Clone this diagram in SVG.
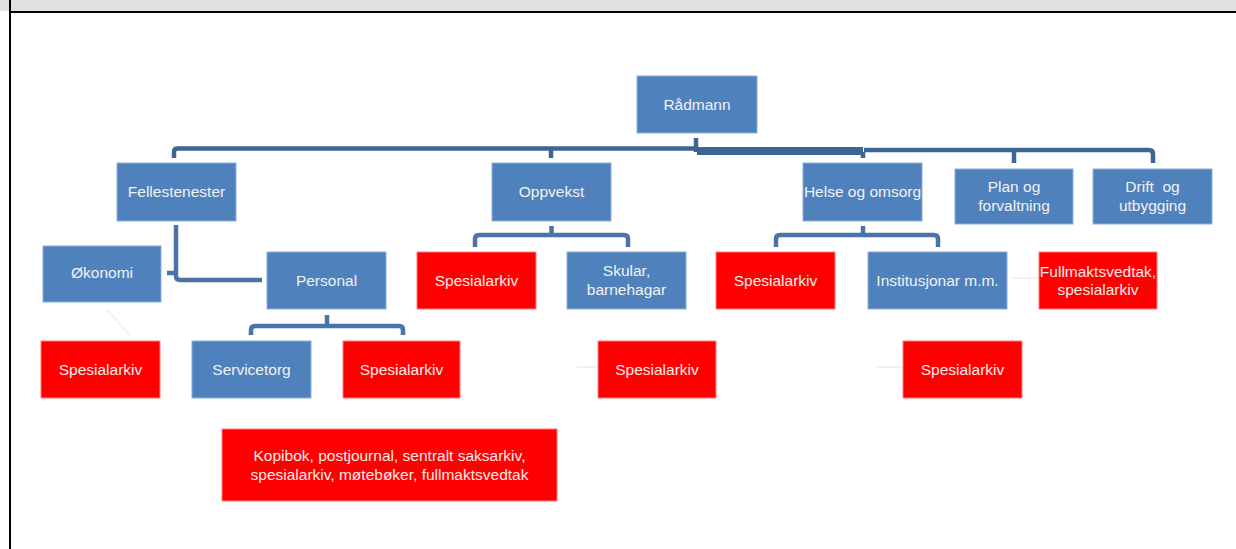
<svg xmlns="http://www.w3.org/2000/svg" width="1236" height="549" viewBox="0 0 1236 549">
<style>
.b{fill:#4f81bd;stroke:#8eaedb;stroke-width:1}
.r{fill:#ff0000;stroke:#ff7f7f;stroke-width:1}
.t{font-family:"Liberation Sans",Arial,sans-serif;font-size:15.5px;fill:#f2f2f2;text-anchor:middle}
.tr{font-family:"Liberation Sans",Arial,sans-serif;font-size:15.5px;fill:#ffecec;text-anchor:middle}
.m{fill:none;stroke:#3f6596;stroke-width:4.5;stroke-linejoin:round}
.c{fill:none;stroke:#4a73a8;stroke-width:4.5;stroke-linejoin:round}
.f{fill:none;stroke:#ececec;stroke-width:1.5}
</style>
<rect x="0" y="0" width="1236" height="549" fill="#ffffff"/>
<rect x="0" y="0" width="1236" height="11" fill="#e0e0e0"/>
<rect x="9" y="11" width="1227" height="2" fill="#000000"/>
<rect x="9" y="0" width="2" height="549" fill="#000000"/>

<g id="connectors">
<path class="m" d="M174,158 V152 Q174,148.5 177.5,148.5 H697"/>
<path class="m" d="M696,138 V152"/>
<path class="m" d="M697,151 H863" style="stroke-width:8"/>
<path class="m" d="M863,152 V158"/>
<path class="m" d="M551,148 V158"/>
<path class="m" d="M864,150 H1149 Q1153,150 1153,154 V163"/>
<path class="m" d="M1014,150 V163"/>
<path class="c" d="M176,225 V276 Q176,280 180,280 H262"/>
<path class="c" d="M167,273 H176"/>
<path class="c" d="M551.5,226 V235"/>
<path class="c" d="M475,247 V239 Q475,235 479,235 H624 Q628,235 628,239 V247"/>
<path class="c" d="M863,226 V235"/>
<path class="c" d="M776,247 V239 Q776,235 780,235 H934 Q938,235 938,239 V247"/>
<path class="c" d="M327,315 V326"/>
<path class="c" d="M251,335 V330 Q251,326 255,326 H399 Q403,326 403,330 V335"/>
<path class="f" d="M107,310 L130,335"/>
<path class="f" d="M577,367 H597"/>
<path class="f" d="M876,367 H903"/>
<path class="f" d="M1013,278 H1039"/>
</g>

<g id="radmann"><rect class="b" x="637" y="76" width="120" height="57"/><text class="t" x="697" y="109.5">Rådmann</text></g>
<g id="fellestenester"><rect class="b" x="117" y="163" width="119" height="58"/><text class="t" x="176.5" y="197">Fellestenester</text></g>
<g id="oppvekst"><rect class="b" x="492" y="163" width="119" height="58"/><text class="t" x="551.5" y="197">Oppvekst</text></g>
<g id="helse"><rect class="b" x="803" y="163" width="119" height="58"/><text class="t" x="862.5" y="197">Helse og omsorg</text></g>
<g id="plan"><rect class="b" x="955" y="169" width="118" height="55"/><text class="t" x="1014" y="191.5">Plan og</text><text class="t" x="1014" y="210.5">forvaltning</text></g>
<g id="drift"><rect class="b" x="1093" y="169" width="119" height="55"/><text class="t" x="1152.5" y="191.5" xml:space="preserve">Drift  og</text><text class="t" x="1152.5" y="210.5">utbygging</text></g>
<g id="okonomi"><rect class="b" x="43" y="246" width="118" height="56"/><text class="t" x="102" y="278">Økonomi</text></g>
<g id="personal"><rect class="b" x="267" y="252" width="119" height="57"/><text class="t" x="326.5" y="285.5">Personal</text></g>
<g id="spes-oppvekst"><rect class="r" x="417" y="252" width="119" height="57"/><text class="tr" x="476.5" y="285.5">Spesialarkiv</text></g>
<g id="skular"><rect class="b" x="567" y="252" width="119" height="57"/><text class="t" x="626.5" y="276">Skular,</text><text class="t" x="626.5" y="294.5">barnehagar</text></g>
<g id="spes-helse"><rect class="r" x="716" y="252" width="119" height="57"/><text class="tr" x="775.5" y="285.5">Spesialarkiv</text></g>
<g id="institusjonar"><rect class="b" x="868" y="252" width="139" height="57"/><text class="t" x="937.5" y="285.5">Institusjonar m.m.</text></g>
<g id="fullmakt"><rect class="r" x="1039" y="252" width="118" height="57"/><text class="tr" x="1098" y="277">Fullmaktsvedtak,</text><text class="tr" x="1098" y="295">spesialarkiv</text></g>
<g id="spes-okonomi"><rect class="r" x="41" y="341" width="119" height="57"/><text class="tr" x="100.5" y="374.5">Spesialarkiv</text></g>
<g id="servicetorg"><rect class="b" x="192" y="341" width="119" height="57"/><text class="t" x="251.5" y="374.5">Servicetorg</text></g>
<g id="spes-personal"><rect class="r" x="343" y="341" width="117" height="57"/><text class="tr" x="401.5" y="374.5">Spesialarkiv</text></g>
<g id="spes-skular"><rect class="r" x="598" y="341" width="118" height="57"/><text class="tr" x="657" y="374.5">Spesialarkiv</text></g>
<g id="spes-inst"><rect class="r" x="903" y="341" width="119" height="57"/><text class="tr" x="962.5" y="374.5">Spesialarkiv</text></g>
<g id="kopibok"><rect class="r" x="222" y="429" width="335" height="72"/><text class="tr" x="389.5" y="461">Kopibok, postjournal, sentralt saksarkiv,</text><text class="tr" x="389.5" y="480">spesialarkiv, møtebøker, fullmaktsvedtak</text></g>
</svg>
